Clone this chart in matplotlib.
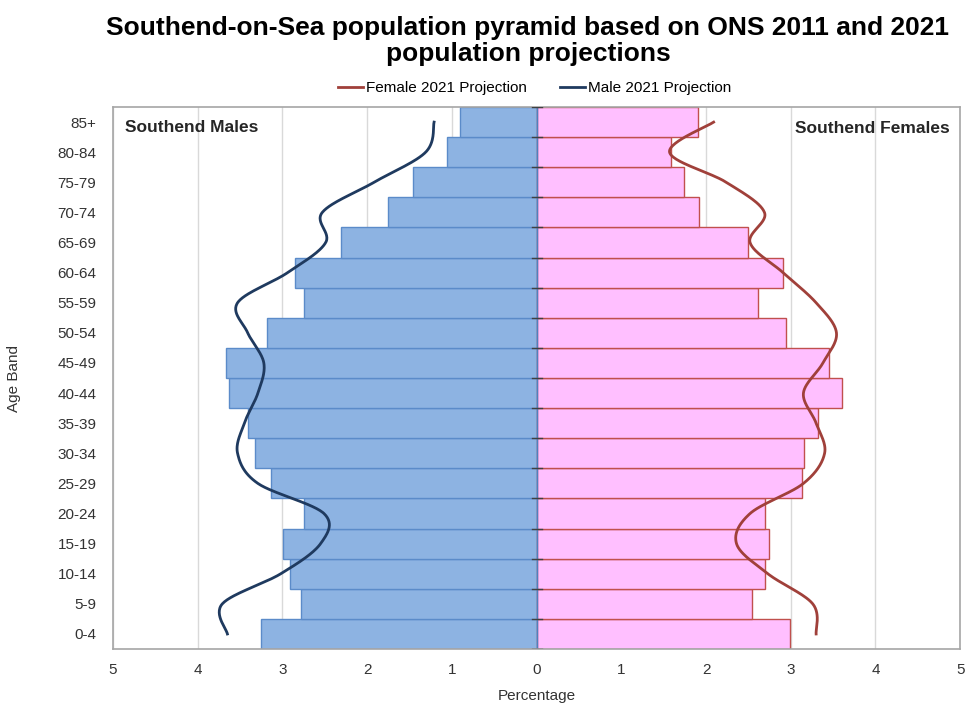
import numpy as np
import matplotlib.pyplot as plt

plt.rcParams['font.family'] = ['Liberation Sans', 'DejaVu Sans']

age_bands = ["0-4", "5-9", "10-14", "15-19", "20-24", "25-29", "30-34", "35-39",
             "40-44", "45-49", "50-54", "55-59", "60-64", "65-69", "70-74",
             "75-79", "80-84", "85+"]

# 2011 percentages (bars)
male_2011 = [3.25, 2.78, 2.91, 2.99, 2.74, 3.13, 3.33, 3.41, 3.63,
             3.67, 3.18, 2.74, 2.85, 2.31, 1.76, 1.46, 1.06, 0.90]
female_2011 = [2.99, 2.54, 2.70, 2.74, 2.70, 3.13, 3.16, 3.32, 3.61,
               3.45, 2.94, 2.61, 2.91, 2.49, 1.92, 1.74, 1.59, 1.91]

# 2021 projections (lines)
male_2021 = [3.65, 3.71, 3.02, 2.55, 2.51, 3.29, 3.53, 3.45, 3.29,
             3.22, 3.41, 3.53, 2.94, 2.49, 2.53, 1.92, 1.31, 1.21]
female_2021 = [3.30, 3.26, 2.73, 2.36, 2.52, 3.15, 3.40, 3.30, 3.15,
               3.38, 3.54, 3.30, 2.91, 2.52, 2.69, 2.24, 1.57, 2.09]


def smooth(vals, steps=30):
    """Catmull-Rom smoothing like Excel's smoothed line"""
    p = np.column_stack([np.asarray(vals, float), np.arange(len(vals), dtype=float)])
    p = np.vstack([p[0], p, p[-1]])
    out = []
    t = np.linspace(0, 1, steps, endpoint=False)[:, None]
    for i in range(1, len(p) - 2):
        p0, p1, p2, p3 = p[i - 1], p[i], p[i + 1], p[i + 2]
        seg = 0.5 * ((2 * p1) + (-p0 + p2) * t + (2 * p0 - 5 * p1 + 4 * p2 - p3) * t ** 2
                     + (-p0 + 3 * p1 - 3 * p2 + p3) * t ** 3)
        out.append(seg)
    out.append(p[-2][None, :])
    out = np.vstack(out)
    return out[:, 0], out[:, 1]


fig = plt.figure(figsize=(9.67, 7.09), dpi=100)
ax = fig.add_axes([0.1169, 0.0846, 0.876, 0.7644])

y = np.arange(len(age_bands))
ax.barh(y, -np.array(male_2011), height=1.0, color='#8DB3E2', edgecolor='#5B8BC9',
        linewidth=1, zorder=2)
ax.barh(y, female_2011, height=1.0, color='#FFBFFF', edgecolor='#C0504D',
        linewidth=1, zorder=2)

fx, fy = smooth(female_2021)
mx, my = smooth(male_2021)
ax.plot(fx, fy, color='#A0403A', lw=2, zorder=3, label='Female 2021 Projection')
ax.plot(-mx, my, color='#1F3A5F', lw=2, zorder=3, label='Male 2021 Projection')

ax.set_xlim(-5, 5)
ax.set_ylim(-0.5, len(age_bands) - 0.5)
ax.set_xticks(range(-5, 6))
ax.set_xticklabels([str(abs(v)) for v in range(-5, 6)])
ax.set_yticks(y)
ax.set_yticklabels(age_bands)
ax.tick_params(axis='both', length=0, labelsize=11, colors='#333333')
ax.tick_params(axis='x', pad=10)
ax.tick_params(axis='y', pad=12)
ax.grid(axis='x', color='#D9D9D9', lw=1, zorder=0)
ax.set_axisbelow(True)
for s in ax.spines.values():
    s.set_color('#A6A6A6')
    s.set_linewidth(1.2)

# category axis at zero with tick marks
ax.axvline(0, color='#4F81BD', lw=1, zorder=2.5)
for b in np.arange(-0.5, len(age_bands)):
    ax.plot([-0.06, 0.06], [b, b], color='#404040', lw=1, zorder=2.6)

ax.set_xlabel('Percentage', fontsize=11, color='#333333', labelpad=9)
ax.set_ylabel('Age Band', fontsize=11, color='#333333', labelpad=26)

ax.text(-4.86, 16.83, 'Southend Males', fontsize=12.5, fontweight='bold',
        color='#262626', va='center', ha='left')
ax.text(4.88, 16.78, 'Southend Females', fontsize=12.5, fontweight='bold',
        color='#262626', va='center', ha='right')

fig.suptitle('Southend-on-Sea population pyramid based on ONS 2011 and 2021\npopulation projections',
             x=0.546, y=0.978, fontsize=19, fontweight='bold', linespacing=1.15)
fig.legend(loc='center', bbox_to_anchor=(0.553, 0.876), ncol=2, frameon=False,
           fontsize=11, handlelength=1.6, handletextpad=0.2, columnspacing=2.2)

fig.savefig('out.png', dpi=100)
